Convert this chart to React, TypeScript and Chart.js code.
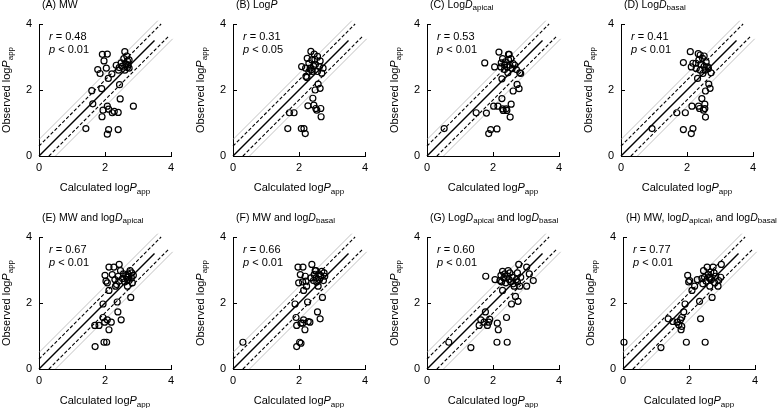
import React, { useEffect, useRef } from 'react';
import { Chart, registerables } from 'chart.js';
Chart.register(...registerables);

const FONT = '"Liberation Sans", Arial, Helvetica, sans-serif';

// ---- data (calculated logPapp, observed logPapp) ----
const calcA = [1.42,1.60,1.63,1.78,1.85,1.90,1.92,2.07,1.97,2.04,1.94,1.91,2.10,2.21,2.07,2.11,2.22,2.11,2.07,2.34,2.41,2.43,2.40,2.40,2.44,2.46,2.49,2.52,2.57,2.60,2.63,2.68,2.60,2.66,2.70,2.73,2.68,2.73,2.86,2.28];
const obsA = [0.83,1.98,1.58,2.62,2.50,2.04,3.08,3.09,2.88,2.66,1.39,1.19,2.35,2.49,1.51,1.42,1.31,0.80,0.66,2.75,2.60,2.68,1.32,0.80,2.16,1.73,2.82,2.72,2.95,2.60,2.79,2.88,3.16,3.03,2.76,2.66,2.68,2.91,1.51,1.35];

const calcB = [1.66,1.71,1.85,2.07,2.15,2.19,2.08,2.20,2.21,2.24,2.25,2.30,2.27,2.36,2.39,2.34,2.37,2.44,2.42,2.45,2.46,2.48,2.50,2.49,2.51,2.54,2.56,2.58,2.62,2.64,2.64,2.66,2.67,2.69,2.73,2.56,2.40,2.30];
const obsB = [0.83,1.31,1.31,0.83,0.83,0.68,2.71,2.66,2.41,2.38,2.96,2.81,1.52,3.17,2.91,2.66,2.61,2.73,1.75,1.54,3.09,2.93,2.78,2.00,1.44,1.39,2.56,2.18,2.71,2.88,2.05,1.44,1.19,2.51,2.66,3.02,2.56,2.56];

const calcC = [0.52,1.49,1.75,1.80,1.87,1.93,2.05,2.02,2.12,2.18,2.15,2.24,2.25,2.29,2.27,2.27,2.29,2.31,2.35,2.37,2.40,2.43,2.45,2.47,2.49,2.51,2.54,2.52,2.55,2.58,2.61,2.61,2.66,2.71,2.73,2.79,2.81,2.84,2.35,2.47,2.42];
const obsC = [0.83,1.31,2.82,1.30,0.68,0.80,2.70,1.51,0.82,3.15,1.51,2.70,2.82,2.95,2.34,1.74,1.43,1.38,2.62,2.85,1.43,2.70,2.52,2.92,3.08,2.75,2.95,1.18,1.57,2.65,1.97,2.80,2.75,2.62,2.17,2.04,2.52,2.50,2.75,3.08,1.38];

const calcD = [0.94,1.69,1.89,1.89,1.95,2.10,2.13,2.13,2.15,2.18,2.18,2.28,2.32,2.34,2.35,2.36,2.38,2.40,2.42,2.45,2.47,2.48,2.50,2.52,2.52,2.54,2.55,2.56,2.56,2.58,2.63,2.66,2.70,2.73,2.65,2.54,2.40,2.27];
const obsD = [0.83,1.31,2.83,0.80,1.31,3.16,2.70,0.68,1.51,0.83,2.81,2.65,2.35,3.10,1.51,2.91,1.44,2.60,2.77,1.74,2.96,2.50,1.39,2.72,3.03,1.57,2.60,1.97,1.18,2.85,2.70,2.18,2.05,2.52,2.65,1.44,3.06,2.81];

const calcE = [1.70,1.69,1.82,1.94,1.94,1.97,2.05,1.99,2.00,2.03,2.07,2.07,2.12,2.19,2.12,2.12,2.22,2.27,2.30,2.32,2.35,2.37,2.39,2.42,2.43,2.47,2.49,2.53,2.56,2.60,2.63,2.66,2.68,2.70,2.73,2.76,2.78,2.80,2.81,2.83,2.86,2.68,2.40];
const obsE = [0.68,1.32,1.32,1.56,1.97,0.81,0.81,1.42,2.84,2.66,2.61,1.49,1.19,1.42,3.09,2.38,2.86,3.09,2.71,2.51,2.56,2.03,1.73,2.66,3.17,2.98,1.49,2.74,2.88,2.64,2.83,2.78,2.51,2.88,2.68,2.98,2.17,2.76,2.91,2.61,2.84,2.71,2.81];

const calcF = [0.30,1.93,1.88,1.91,1.93,1.97,1.99,2.02,2.06,2.04,2.06,2.12,2.11,2.14,2.14,2.18,2.19,2.21,2.23,2.26,2.28,2.33,2.36,2.39,2.44,2.46,2.49,2.52,2.54,2.56,2.58,2.60,2.62,2.64,2.66,2.69,2.71,2.74,2.76,2.78,2.51,2.11];
const obsF = [0.81,0.68,1.97,1.56,1.32,3.09,2.61,0.81,0.78,2.86,1.39,3.09,2.64,1.49,2.38,1.19,2.81,2.66,2.51,2.03,1.44,1.42,2.76,3.17,2.68,2.86,2.98,2.76,2.64,1.73,2.51,2.88,2.71,1.52,2.83,2.96,2.17,2.68,2.91,2.81,2.98,1.39];

const calcG = [0.66,1.33,1.58,1.63,1.73,1.77,1.78,1.83,1.87,1.90,2.06,2.13,2.16,2.12,2.21,2.24,2.26,2.29,2.29,2.33,2.36,2.39,2.41,2.43,2.44,2.46,2.49,2.51,2.54,2.56,2.58,2.61,2.64,2.68,2.71,2.74,2.76,2.78,2.81,2.84,3.02,3.02,3.10,3.22,2.74];
const obsG = [0.81,0.65,1.32,1.49,1.42,1.73,2.81,1.32,1.42,1.51,2.71,1.39,1.19,0.81,2.68,2.84,2.64,2.96,2.38,2.76,2.88,2.61,1.56,0.81,2.81,2.98,2.71,2.91,2.64,1.97,2.78,2.58,2.51,2.20,2.71,2.64,2.05,3.17,2.51,2.78,3.09,2.51,2.88,2.68,2.91];

const calcH = [0.03,1.15,1.37,1.51,1.64,1.69,1.74,1.78,1.76,1.78,1.84,1.88,1.92,1.96,1.99,2.02,2.09,2.17,2.25,2.32,2.35,2.39,2.42,2.44,2.47,2.49,2.52,2.55,2.58,2.61,2.63,2.66,2.68,2.70,2.73,2.76,2.78,2.81,2.88,2.90,2.98,2.96,2.63];
const obsH = [0.81,0.65,1.52,1.44,1.42,1.34,1.49,1.29,1.19,1.56,1.73,1.97,0.81,2.84,2.64,2.68,2.38,2.51,2.71,2.05,1.52,2.74,2.58,2.98,2.78,0.81,2.66,3.09,2.86,2.78,2.51,2.94,2.71,2.17,3.09,2.91,2.61,2.81,2.51,2.68,3.17,2.78,2.74];

// ---- reference lines ----
const identityX = [0, 3.5];
const identityY = [0, 3.5];
const upperDashX = [0, 3.7];
const upperDashY = [0.3, 4.0];
const lowerDashX = [0.3, 3.95];
const lowerDashY = [0, 3.65];
const upperGrayX = [0, 3.6];
const upperGrayY = [0.5, 4.1];
const lowerGrayX = [0.5, 4.05];
const lowerGrayY = [0, 3.55];

// ---- ticks & text ----
const tickValues = [0, 2, 4];
const rValues = ['0.48', '0.31', '0.53', '0.41', '0.67', '0.66', '0.60', '0.77'];
const pValues = ['< 0.01', '< 0.05', '< 0.01', '< 0.01', '< 0.01', '< 0.01', '< 0.01', '< 0.01'];

type Seg = { t: string; i?: boolean; sub?: boolean };

const titles: Seg[][] = [
  [{ t: '(A) MW' }],
  [{ t: '(B) Log' }, { t: 'P', i: true }],
  [{ t: '(C) Log' }, { t: 'D', i: true }, { t: 'apical', sub: true }],
  [{ t: '(D) Log' }, { t: 'D', i: true }, { t: 'basal', sub: true }],
  [{ t: '(E) MW and log' }, { t: 'D', i: true }, { t: 'apical', sub: true }],
  [{ t: '(F) MW and log' }, { t: 'D', i: true }, { t: 'basal', sub: true }],
  [{ t: '(G) Log' }, { t: 'D', i: true }, { t: 'apical', sub: true }, { t: ' and log' }, { t: 'D', i: true }, { t: 'basal', sub: true }],
  [{ t: '(H) MW, log' }, { t: 'D', i: true }, { t: 'apical', sub: true }, { t: ', and log' }, { t: 'D', i: true }, { t: 'basal', sub: true }],
];
const xLabel: Seg[] = [{ t: 'Calculated log' }, { t: 'P', i: true }, { t: 'app', sub: true }];
const yLabel: Seg[] = [{ t: 'Observed log' }, { t: 'P', i: true }, { t: 'app', sub: true }];

const calcs = [calcA, calcB, calcC, calcD, calcE, calcF, calcG, calcH];
const obss = [obsA, obsB, obsC, obsD, obsE, obsF, obsG, obsH];

// ---- layout (plot-area positions in page px) ----
const plotLefts = [39, 233, 427, 621, 38.5, 232.5, 427, 622.5];
const plotTops = [24, 24, 24, 24, 237, 237, 237, 237];
const PLOT = 132;
const PAD_L = 40;
const PAD_T = 24;
const PAD_R = 22;
const PAD_B = 40;
const TICK_IN = 4;

function segFont(s: Seg, size: number) {
  const sz = s.sub ? Math.round(size * 0.72) : size;
  return `${s.i ? 'italic ' : ''}${sz}px ${FONT}`;
}

function drawRich(ctx: CanvasRenderingContext2D, segs: Seg[], x: number, y: number, size: number, align: 'left' | 'center') {
  ctx.textBaseline = 'middle';
  ctx.textAlign = 'left';
  const widths = segs.map((s) => {
    ctx.font = segFont(s, size);
    return ctx.measureText(s.t).width;
  });
  const total = widths.reduce((a, b) => a + b, 0);
  let cx = align === 'center' ? x - total / 2 : x;
  segs.forEach((s, k) => {
    ctx.font = segFont(s, size);
    ctx.fillText(s.t, cx, s.sub ? y + size * 0.3 : y);
    cx += widths[k];
  });
}

function toPts(xs: number[], ys: number[]) {
  return xs.map((x, k) => ({ x, y: ys[k] }));
}

function Panel({ idx }: { idx: number }) {
  const ref = useRef<HTMLCanvasElement>(null);
  useEffect(() => {
    if (!ref.current) return;
    const textPlugin = {
      id: 'panelText' + idx,
      afterDraw(chart: any) {
        const ctx: CanvasRenderingContext2D = chart.ctx;
        const a = chart.chartArea;
        const xs = chart.scales.x;
        const ys = chart.scales.y;
        ctx.save();
        // inward tick marks
        ctx.strokeStyle = '#000';
        ctx.lineWidth = 1;
        ctx.beginPath();
        tickValues.forEach((v) => {
          const px = Math.round(xs.getPixelForValue(v)) + 0.5;
          ctx.moveTo(px, a.bottom);
          ctx.lineTo(px, a.bottom - TICK_IN);
          const py = Math.round(ys.getPixelForValue(v)) + 0.5;
          ctx.moveTo(a.left, py);
          ctx.lineTo(a.left + TICK_IN, py);
        });
        ctx.stroke();
        ctx.fillStyle = '#000';
        drawRich(ctx, titles[idx], a.left + 3, a.top - 19, 10.5, 'left');
        drawRich(ctx, [{ t: 'r', i: true }, { t: ' = ' + rValues[idx] }], a.left + 10, a.top + 13, 11, 'left');
        drawRich(ctx, [{ t: 'p', i: true }, { t: ' ' + pValues[idx] }], a.left + 10, a.top + 26, 11, 'left');
        drawRich(ctx, xLabel, (a.left + a.right) / 2, a.bottom + 32, 11, 'center');
        ctx.translate(a.left - 32, (a.top + a.bottom) / 2);
        ctx.rotate(-Math.PI / 2);
        drawRich(ctx, yLabel, 0, 0, 11, 'center');
        ctx.restore();
      },
    };
    const lineDs = (xs: number[], ys: number[], color: string, width: number, dash: number[]) => ({
      type: 'scatter' as const,
      data: toPts(xs, ys),
      showLine: true,
      borderColor: color,
      borderWidth: width,
      borderDash: dash,
      pointRadius: 0,
      fill: false,
      clip: false as any,
    });
    const chart = new Chart(ref.current, {
      type: 'scatter',
      data: {
        datasets: [
          {
            data: toPts(calcs[idx], obss[idx]),
            pointRadius: 3,
            pointBorderWidth: 1.2,
            borderColor: '#000',
            backgroundColor: 'rgba(0,0,0,0)',
            pointBackgroundColor: 'rgba(0,0,0,0)',
            clip: false as any,
          },
          lineDs(identityX, identityY, '#000', 1.5, []),
          lineDs(upperDashX, upperDashY, '#000', 1.1, [3.5, 2]),
          lineDs(lowerDashX, lowerDashY, '#000', 1.1, [3.5, 2]),
          lineDs(upperGrayX, upperGrayY, '#b4b4b4', 0.8, []),
          lineDs(lowerGrayX, lowerGrayY, '#b4b4b4', 0.8, []),
        ] as any,
      },
      options: {
        responsive: false,
        animation: false,
        events: [],
        layout: { padding: { left: 0, top: PAD_T, right: PAD_R, bottom: 0 } },
        plugins: { legend: { display: false }, tooltip: { enabled: false }, title: { display: false } },
        scales: {
          x: {
            type: 'linear',
            min: 0,
            max: 4,
            afterBuildTicks: (s: any) => { s.ticks = tickValues.map((v) => ({ value: v })); },
            afterFit: (s: any) => { s.height = PAD_B; },
            grid: { drawOnChartArea: false, drawTicks: false, color: '#000', lineWidth: 1 },
            border: { display: true, color: '#000', width: 1 },
            ticks: { color: '#000', font: { family: FONT, size: 11 }, padding: 5, maxRotation: 0 },
          },
          y: {
            type: 'linear',
            min: 0,
            max: 4,
            afterBuildTicks: (s: any) => { s.ticks = tickValues.map((v) => ({ value: v })); },
            afterFit: (s: any) => { s.width = PAD_L; },
            grid: { drawOnChartArea: false, drawTicks: false, color: '#000', lineWidth: 1 },
            border: { display: true, color: '#000', width: 1 },
            ticks: { color: '#000', font: { family: FONT, size: 11 }, padding: 7 },
          },
        },
      },
      plugins: [textPlugin],
    } as any);
    return () => chart.destroy();
  }, [idx]);
  const w = PAD_L + PLOT + PAD_R;
  const h = PAD_T + PLOT + PAD_B;
  return (
    <canvas
      ref={ref}
      width={w}
      height={h}
      style={{ position: 'absolute', left: plotLefts[idx] - PAD_L, top: plotTops[idx] - PAD_T, width: w, height: h }}
    />
  );
}

export default function App() {
  return (
    <div style={{ position: 'absolute', left: 0, top: 0, width: 777, height: 408, overflow: 'hidden', background: '#fff' }}>
      {calcs.map((_, k) => (
        <Panel key={k} idx={k} />
      ))}
    </div>
  );
}
